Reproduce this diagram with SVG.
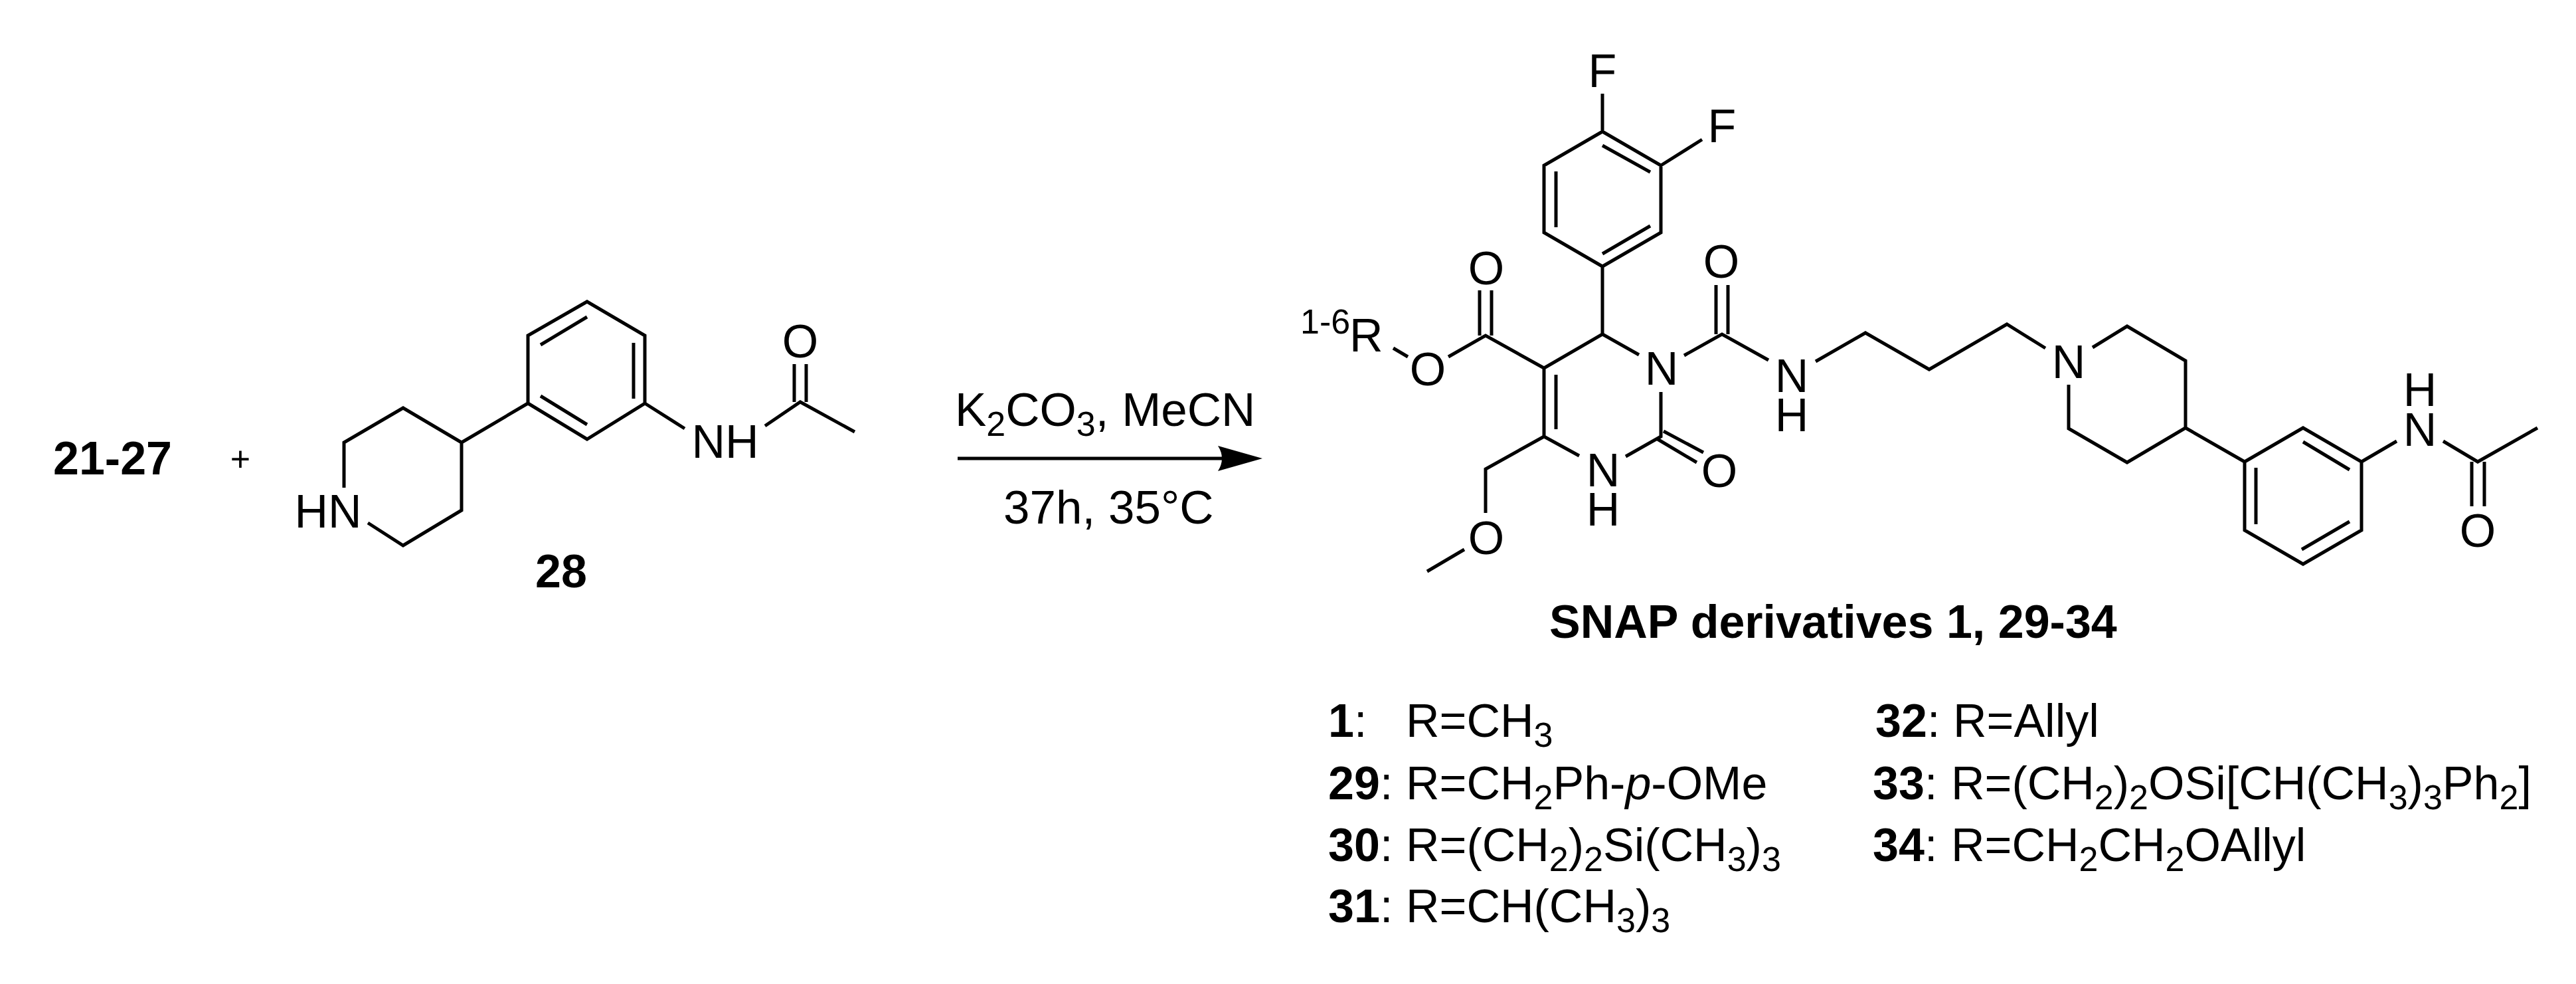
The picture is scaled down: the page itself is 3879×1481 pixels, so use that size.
<svg xmlns="http://www.w3.org/2000/svg" width="3879" height="1481" viewBox="0 0 3879 1481">
<style>
text{font-family:"Liberation Sans",Arial,sans-serif;font-size:70px;fill:#000}
.m{text-anchor:middle}
.b{font-weight:bold}
.s{font-size:52px}
.k{fill:none;stroke:#000;stroke-width:5;stroke-linejoin:miter}
.r{font-size:71px}
</style>
<rect width="3879" height="1481" fill="#fff"/>
<g id="reagent-21-27"><text class="b" x="80" y="714">21-27</text></g>
<g id="plus"><text x="362" y="709" class="m" style="font-size:52px">+</text></g>
<g id="compound-28">
<path class="k" d="M884 454L971 505V607L884 661L795 607V505ZM814 519L884 477M954 516V600M814 596L884 639M795 607L695 666L607 614L518 666V734M695 666V768L607 821L554 787M971 607L1031 645M1152 641L1205 605L1287 650M1196 605V548M1214 605V548"/>
<text class="m" x="494" y="794">HN</text>
<text class="m" x="1092" y="689">NH</text>
<text class="m" x="1205" y="538">O</text>
<text class="b" x="806" y="884">28</text>
</g>
<g id="connectors">
<line x1="1442" y1="690" x2="1845" y2="690" stroke="#000" stroke-width="5"/>
<path d="M1901 690L1834 671Q1846 690 1834 709Z" fill="#000"/>
</g>
<g id="conditions">
<text class="r" x="1438" y="641">K<tspan class="s" dy="15">2</tspan><tspan dy="-15">CO</tspan><tspan class="s" dy="15">3</tspan><tspan dy="-15">, MeCN</tspan></text>
<text class="r" x="1511" y="788">37h, 35°C</text>
</g>
<g id="snap-product">
<path class="k" d="M2413 198L2501 249V350L2413 401L2325 350V249ZM2413 141V198M2413 219L2485 259M2343 258V342M2413 382L2485 340M2501 249L2563 210M2413 401V503L2325 554V657L2378 686M2343 564V646M2413 503L2468 534M2501 590V657L2448 687M2505 649L2565 681M2496 661L2555 696M2325 657L2237 706V772M2205 827L2149 860M2325 554L2237 505L2181 537M2228 505V437M2246 505V437M2120 537L2098 524M2536 535L2593 503L2663 542M2584 503V429M2602 503V429M2734 544L2809 501L2905 556L3022 488L3080 524M3151 523L3203 491L3291 543V644L3203 696L3115 645V579M3291 644L3380 695L3468 644L3556 695V798L3468 849L3380 798V695M3468 665L3538 707M3397 704V789M3466 827L3538 785M3556 695L3609 664M3679 664L3731 695L3821 644M3722 695V762M3741 695V762"/>
<text class="m" x="2413" y="131">F</text>
<text class="m" x="2593" y="214">F</text>
<text class="m" x="2238" y="428">O</text>
<text class="m" x="2592" y="418">O</text>
<text x="1958" y="502" class="s">1-6</text>
<text x="2032" y="529">R</text>
<text class="m" x="2150" y="580">O</text>
<text class="m" x="2502" y="579">N</text>
<text class="m" x="2698" y="590">N</text>
<text class="m" x="2698" y="649">H</text>
<text class="m" x="2414" y="732">N</text>
<text class="m" x="2414" y="791">H</text>
<text class="m" x="2589" y="733">O</text>
<text class="m" x="2238" y="834">O</text>
<text class="m" x="3115" y="569">N</text>
<text class="m" x="3644" y="611">H</text>
<text class="m" x="3644" y="671">N</text>
<text class="m" x="3731" y="823">O</text>
<text class="b" x="2333" y="960">SNAP derivatives 1, 29-34</text>
</g>
<g id="r-list">
<text x="2000" y="1109"><tspan class="b">1</tspan>:</text>
<text x="2117" y="1109">R=CH<tspan class="s" dy="15">3</tspan></text>
<text x="2000" y="1203"><tspan class="b">29</tspan>:</text>
<text x="2117" y="1203">R=CH<tspan class="s" dy="15">2</tspan><tspan dy="-15">Ph-</tspan><tspan font-style="italic">p</tspan>-OMe</text>
<text x="2000" y="1296"><tspan class="b">30</tspan>:</text>
<text x="2117" y="1296">R=(CH<tspan class="s" dy="15">2</tspan><tspan dy="-15">)</tspan><tspan class="s" dy="15">2</tspan><tspan dy="-15">Si(CH</tspan><tspan class="s" dy="15">3</tspan><tspan dy="-15">)</tspan><tspan class="s" dy="15">3</tspan></text>
<text x="2000" y="1388"><tspan class="b">31</tspan>:</text>
<text x="2117" y="1388">R=CH(CH<tspan class="s" dy="15">3</tspan><tspan dy="-15">)</tspan><tspan class="s" dy="15">3</tspan></text>
<text x="2824" y="1109"><tspan class="b">32</tspan>:</text>
<text x="2941" y="1109">R=Allyl</text>
<text x="2820" y="1203"><tspan class="b">33</tspan>:</text>
<text x="2938" y="1203">R=(CH<tspan class="s" dy="15">2</tspan><tspan dy="-15">)</tspan><tspan class="s" dy="15">2</tspan><tspan dy="-15">OSi[CH(CH</tspan><tspan class="s" dy="15">3</tspan><tspan dy="-15">)</tspan><tspan class="s" dy="15">3</tspan><tspan dy="-15">Ph</tspan><tspan class="s" dy="15">2</tspan><tspan dy="-15">]</tspan></text>
<text x="2820" y="1296"><tspan class="b">34</tspan>:</text>
<text x="2938" y="1296">R=CH<tspan class="s" dy="15">2</tspan><tspan dy="-15">CH</tspan><tspan class="s" dy="15">2</tspan><tspan dy="-15">OAllyl</tspan></text>
</g>
</svg>
